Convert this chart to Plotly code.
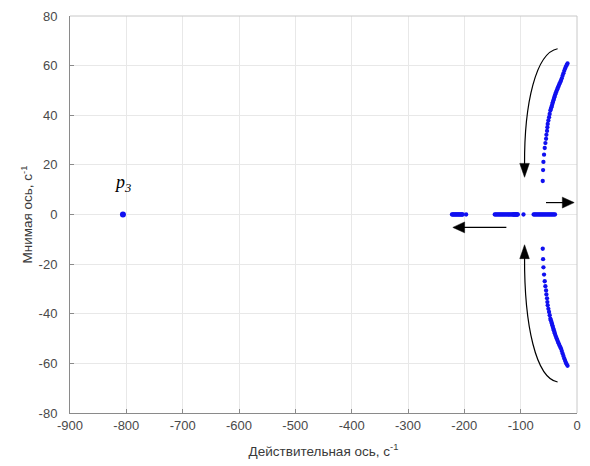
import plotly.graph_objects as go

# --- data ---
upper_re = [-60.8, -60.2, -59.6, -58.5, -57.3, -56.1, -54.9, -54.3, -53.2, -52.6, -52.0, -50.8,
            -49.6, -48.5, -47.3, -46.4, -45.5, -44.6, -43.8, -42.9, -42.0, -41.1, -40.3, -39.4,
            -38.5, -37.3, -36.1, -35.0, -33.8, -32.6, -31.5, -30.0, -28.5, -27.0, -25.6, -24.1,
            -22.6, -21.1, -19.7, -18.2, -16.8]
upper_im = [13.5, 17.9, 21.2, 24.1, 26.8, 28.8, 30.5, 32.1, 33.7, 35.2, 36.5, 37.9,
            39.2, 40.5, 41.9, 42.5, 43.2, 43.8, 44.5, 45.2, 45.9, 46.5, 47.2, 47.8,
            48.5, 49.2, 49.9, 50.5, 51.2, 51.8, 52.5, 53.2, 53.9, 54.9, 55.9, 56.9,
            57.9, 58.8, 59.6, 60.3, 60.9]
lower_re = [-60.8, -60.2, -59.6, -58.5, -57.3, -56.1, -54.9, -54.3, -53.2, -52.6, -52.0, -50.8,
            -49.6, -48.5, -47.3, -46.4, -45.5, -44.6, -43.8, -42.9, -42.0, -41.1, -40.3, -39.4,
            -38.5, -37.3, -36.1, -35.0, -33.8, -32.6, -31.5, -30.0, -28.5, -27.0, -25.6, -24.1,
            -22.6, -21.1, -19.7, -18.2, -16.8]
lower_im = [-13.8, -18.0, -21.3, -24.2, -26.9, -28.9, -30.6, -32.2, -33.8, -35.3, -36.6, -38.0,
            -39.3, -40.6, -42.0, -42.6, -43.3, -43.9, -44.6, -45.3, -46.0, -46.6, -47.3, -47.9,
            -48.6, -49.3, -50.0, -50.6, -51.3, -51.9, -52.6, -53.3, -54.0, -55.0, -56.0, -57.0,
            -58.0, -58.9, -59.7, -60.4, -61.0]
axis_re = [-222, -220.5, -219, -217.5, -216, -214.5, -213, -211.5, -210, -208.5, -207, -205.5,
           -204, -202.8, -196.8,
           -146, -144, -142, -140, -138, -136, -134, -132, -130, -128, -126, -124, -122, -120,
           -118, -116, -114, -113, -112, -111, -110, -109, -108, -107, -106, -105,
           -95,
           -77, -75, -73, -71, -69, -67, -65, -63, -61, -59, -57, -55, -53, -51, -49, -47,
           -45, -43, -41, -39]
axis_im = [0.0] * len(axis_re)
p3_re = [-806]
p3_im = [0]

x_ticks = [-900, -800, -700, -600, -500, -400, -300, -200, -100, 0]
y_ticks = [-80, -60, -40, -20, 0, 20, 40, 60, 80]

BLUE = "#1010f0"
fig = go.Figure()
marker = dict(color=BLUE, size=4.3, line=dict(width=0))
for xs, ys in [(upper_re, upper_im), (lower_re, lower_im), (axis_re, axis_im)]:
    fig.add_trace(go.Scatter(x=xs, y=ys, mode="markers", marker=marker, showlegend=False,
                             hoverinfo="skip"))
fig.add_trace(go.Scatter(x=p3_re, y=p3_im, mode="markers",
                         marker=dict(color=BLUE, size=6, line=dict(width=0)), showlegend=False))
# invisible helper trace so the overlaid tick axis is drawn
fig.add_trace(go.Scatter(x=p3_re, y=p3_im, yaxis="y2", mode="markers",
                         marker=dict(opacity=0), showlegend=False, hoverinfo="skip"))

# --- arrows (annotation graphics) ---
blk = dict(color="black", width=1.2)
shapes = []
shapes.append(dict(type="path", xref="x", yref="y",
                   path="M -34.4,66.8 C -72.5,65.2 -93.7,45.2 -93.1,20.0", line=blk))
shapes.append(dict(type="path", xref="x", yref="y",
                   path="M -93.1,15.0 L -101.6,20.6 L -84.6,20.6 Z",
                   fillcolor="black", line=dict(color="black", width=0.5)))
shapes.append(dict(type="path", xref="x", yref="y",
                   path="M -34.4,-67.5 C -72.5,-66.0 -93.7,-45.0 -93.1,-17.0", line=blk))
shapes.append(dict(type="path", xref="x", yref="y",
                   path="M -93.1,-12.2 L -101.6,-17.8 L -84.6,-17.8 Z",
                   fillcolor="black", line=dict(color="black", width=0.5)))
shapes.append(dict(type="line", xref="x", yref="y", x0=-55, y0=4.8, x1=-20, y1=4.8, line=blk))
shapes.append(dict(type="path", xref="x", yref="y",
                   path="M -5,4.8 L -26,7.0 L -26,2.6 Z",
                   fillcolor="black", line=dict(color="black", width=0.5)))
shapes.append(dict(type="line", xref="x", yref="y", x0=-125.4, y0=-5.2, x1=-205, y1=-5.2, line=blk))
shapes.append(dict(type="path", xref="x", yref="y",
                   path="M -220.4,-5.2 L -199.5,-3.0 L -199.5,-7.4 Z",
                   fillcolor="black", line=dict(color="black", width=0.5)))
shapes.append(dict(type="line", xref="paper", yref="paper", x0=0, y0=1, x1=1, y1=1,
                   line=dict(color="#c8c8c8", width=1)))
shapes.append(dict(type="line", xref="paper", yref="paper", x0=1, y0=0, x1=1, y1=1,
                   line=dict(color="#c8c8c8", width=1)))

fig.update_layout(
    width=590, height=466,
    margin=dict(l=70, r=9, t=15, b=53),
    paper_bgcolor="white", plot_bgcolor="white",
    font=dict(family="Liberation Sans, Arial, sans-serif", size=13, color="#4a4a4a"),
    shapes=shapes,
    annotations=[dict(x=-806, y=12.6, xref="x", yref="y", text="<i>p<sub>3</sub></i>",
                      showarrow=False,
                      font=dict(family="Liberation Serif, Times New Roman, serif", size=18,
                                color="black"))],
    xaxis=dict(range=[-900, 0], tickvals=x_ticks, ticktext=[str(v) for v in x_ticks],
               showgrid=True, gridcolor="#e8e8e8", gridwidth=1, zeroline=False,
               showline=True, linecolor="#8a8a8a", linewidth=1,
               ticks="inside", ticklen=4, tickcolor="#8a8a8a",
               title=dict(text="Действительная ось, с<sup>-1</sup>", standoff=14,
                          font=dict(size=13.5, color="#3a3a3a"))),
    yaxis=dict(range=[-80, 80], tickvals=y_ticks, ticktext=[str(v) for v in y_ticks],
               showgrid=True, gridcolor="#e8e8e8", gridwidth=1, zeroline=False,
               showline=True, linecolor="#8a8a8a", linewidth=1,
               ticks="outside", ticklen=9, tickcolor="rgba(0,0,0,0)",
               title=dict(text="Мнимая ось, с<sup>-1</sup>", standoff=2,
                          font=dict(size=13.5, color="#3a3a3a"))),
    yaxis2=dict(range=[-80, 80], tickvals=y_ticks, overlaying="y", side="left",
                showticklabels=False, showgrid=False, zeroline=False, showline=False,
                ticks="inside", ticklen=4, tickcolor="#8a8a8a"),
)

fig.write_html("out.html")
